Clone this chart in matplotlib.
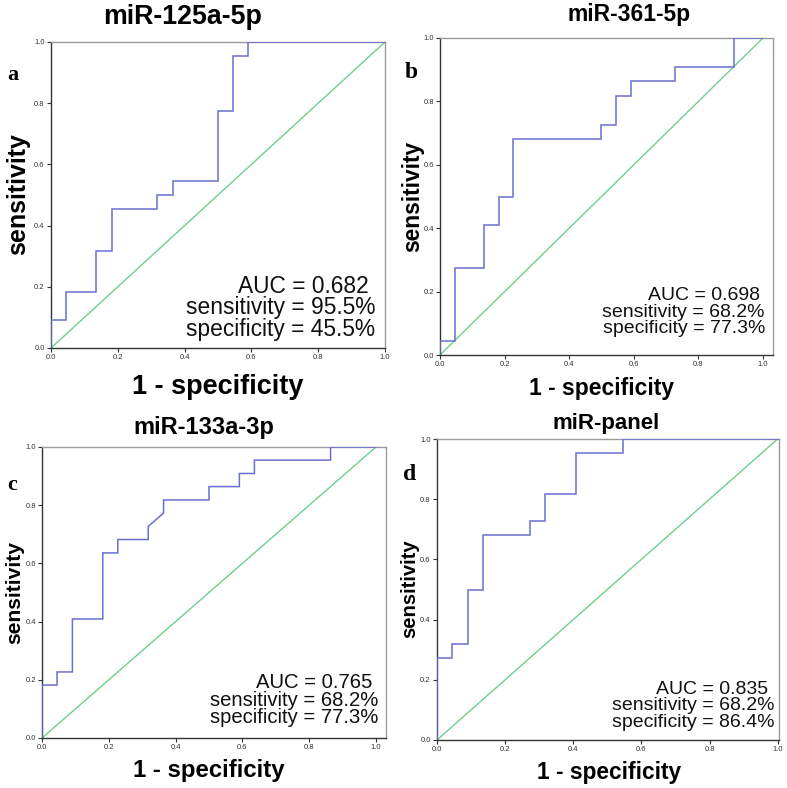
import matplotlib
matplotlib.use("Agg")
import matplotlib.pyplot as plt

# ---- data (ROC step points: 1 - specificity, sensitivity) ----
titles = ["miR-125a-5p", "miR-361-5p", "miR-133a-3p", "miR-panel"]
letters = ["a", "b", "c", "d"]

fpr_a = [0, 0, 0.045, 0.045, 0.136, 0.136, 0.182, 0.182, 0.318, 0.318, 0.364, 0.364, 0.5, 0.5, 0.545, 0.545, 0.591, 0.591, 1.0]
tpr_a = [0, 0.091, 0.091, 0.182, 0.182, 0.318, 0.318, 0.455, 0.455, 0.5, 0.5, 0.545, 0.545, 0.773, 0.773, 0.955, 0.955, 1.0, 1.0]

fpr_b = [0, 0, 0.045, 0.045, 0.136, 0.136, 0.182, 0.182, 0.227, 0.227, 0.5, 0.5, 0.545, 0.545, 0.591, 0.591, 0.727, 0.727, 0.909, 0.909, 1.0]
tpr_b = [0, 0.045, 0.045, 0.273, 0.273, 0.409, 0.409, 0.5, 0.5, 0.682, 0.682, 0.727, 0.727, 0.818, 0.818, 0.864, 0.864, 0.909, 0.909, 1.0, 1.0]

fpr_c = [0, 0, 0.045, 0.045, 0.091, 0.091, 0.182, 0.182, 0.227, 0.227, 0.318, 0.318, 0.364, 0.364, 0.5, 0.5, 0.591, 0.591, 0.636, 0.636, 0.864, 0.864, 1.0]
tpr_c = [0, 0.182, 0.182, 0.227, 0.227, 0.409, 0.409, 0.636, 0.636, 0.682, 0.682, 0.727, 0.773, 0.818, 0.818, 0.864, 0.864, 0.909, 0.909, 0.955, 0.955, 1.0, 1.0]

fpr_d = [0, 0, 0.045, 0.045, 0.091, 0.091, 0.136, 0.136, 0.273, 0.273, 0.318, 0.318, 0.409, 0.409, 0.545, 0.545, 1.0]
tpr_d = [0, 0.273, 0.273, 0.318, 0.318, 0.5, 0.5, 0.682, 0.682, 0.727, 0.727, 0.818, 0.818, 0.955, 0.955, 1.0, 1.0]

auc = ["0.682", "0.698", "0.765", "0.835"]
sens = ["95.5%", "68.2%", "68.2%", "68.2%"]
spec = ["45.5%", "77.3%", "77.3%", "86.4%"]
ticks = [0.0, 0.2, 0.4, 0.6, 0.8, 1.0]
tick_labels = ["0.0", "0.2", "0.4", "0.6", "0.8", "1.0"]

W, H = 787, 788
fig = plt.figure(figsize=(W / 100, H / 100), dpi=100)
fig.patch.set_facecolor("white")

SANS = ["Liberation Sans", "DejaVu Sans"]
SERIF = ["Liberation Serif", "DejaVu Serif"]

def fx(px):
    return px / W

def fy(py):
    return 1 - py / H

# layout per panel (pixels)
panels = [
    dict(box=(51, 42, 385, 348), xmax=1.0,
         title=(183, 17, 19.3), ylab=(18, 194, 18), xlab=(218, 387, 19.5),
         letter=(13, 75, 16), txt=(375, 308, 20.5, 16.4)),
    dict(box=(440, 38, 773, 355), xmax=1.031,
         title=(629, 15, 16.5), ylab=(413, 196, 16.4), xlab=(602, 388, 16.5),
         letter=(411, 73, 17), txt=(765, 312, 18.5, 14)),
    dict(box=(42, 447, 386, 738), xmax=1.03,
         title=(204, 428, 17), ylab=(15, 592, 15.2), xlab=(209, 771, 17.3),
         letter=(12, 485, 16), txt=(378, 700, 17.5, 14.6)),
    dict(box=(437, 439, 779, 740), xmax=1.004,
         title=(606, 424, 16), ylab=(410, 589, 14.6), xlab=(609, 772, 16.4),
         letter=(410, 475, 17), txt=(774, 706, 17.5, 14)),
]
curves = [(fpr_a, tpr_a), (fpr_b, tpr_b), (fpr_c, tpr_c), (fpr_d, tpr_d)]

for i, p in enumerate(panels):
    x0, y0, x1, y1 = p["box"]
    ax = fig.add_axes([fx(x0), fy(y1), (x1 - x0) / W, (y1 - y0) / H])
    ax.set_xlim(0, p["xmax"])
    ax.set_ylim(0, 1.0)
    ax.plot([0, 1], [0, 1], color="#6fcf8f", lw=1.0, zorder=2)
    fx_, ty_ = curves[i]
    ax.plot(fx_, ty_, color="#6a6fd0", lw=1.1, zorder=3, solid_joinstyle="miter")
    ax.set_xticks(ticks)
    ax.set_xticklabels(tick_labels)
    ax.set_yticks(ticks)
    ax.set_yticklabels(tick_labels)
    ax.tick_params(axis="both", direction="out", length=3, width=0.8,
                   labelsize=5.5, colors="#333333", pad=1.5)
    for lab in ax.get_xticklabels() + ax.get_yticklabels():
        lab.set_fontfamily(SANS)
    ax.spines["left"].set_color("#333333")
    ax.spines["bottom"].set_color("#333333")
    ax.spines["top"].set_color("#9a9a9a")
    ax.spines["right"].set_color("#9a9a9a")
    for s in ax.spines.values():
        s.set_linewidth(1.0)

    tx, ty, ts = p["title"]
    fig.text(fx(tx), fy(ty), titles[i], ha="center", va="center",
             fontsize=ts, fontweight="bold", family=SANS)
    lx, ly, ls = p["ylab"]
    fig.text(fx(lx), fy(ly), "sensitivity", ha="center", va="center",
             rotation=90, fontsize=ls, fontweight="bold", family=SANS)
    bx, by, bs = p["xlab"]
    fig.text(fx(bx), fy(by), "1 - specificity", ha="center", va="center",
             fontsize=bs, fontweight="bold", family=SANS)
    kx, ky, ks = p["letter"]
    fig.text(fx(kx), fy(ky), letters[i], ha="center", va="center",
             fontsize=ks, fontweight="bold", family=SERIF)
    rx, rmid, pitch, rs = p["txt"]
    fontpx = rs * 100 / 72
    lsp = pitch / (0.96 * fontpx)
    block = "\n".join(["AUC = " + auc[i] + " ",
                       "sensitivity = " + sens[i],
                       "specificity = " + spec[i]])
    fig.text(fx(rx), fy(rmid), block, ha="right", va="center",
             multialignment="right", linespacing=lsp,
             fontsize=rs, family=SANS, color="#111111")

fig.savefig("out.png", dpi=100, facecolor="white")
